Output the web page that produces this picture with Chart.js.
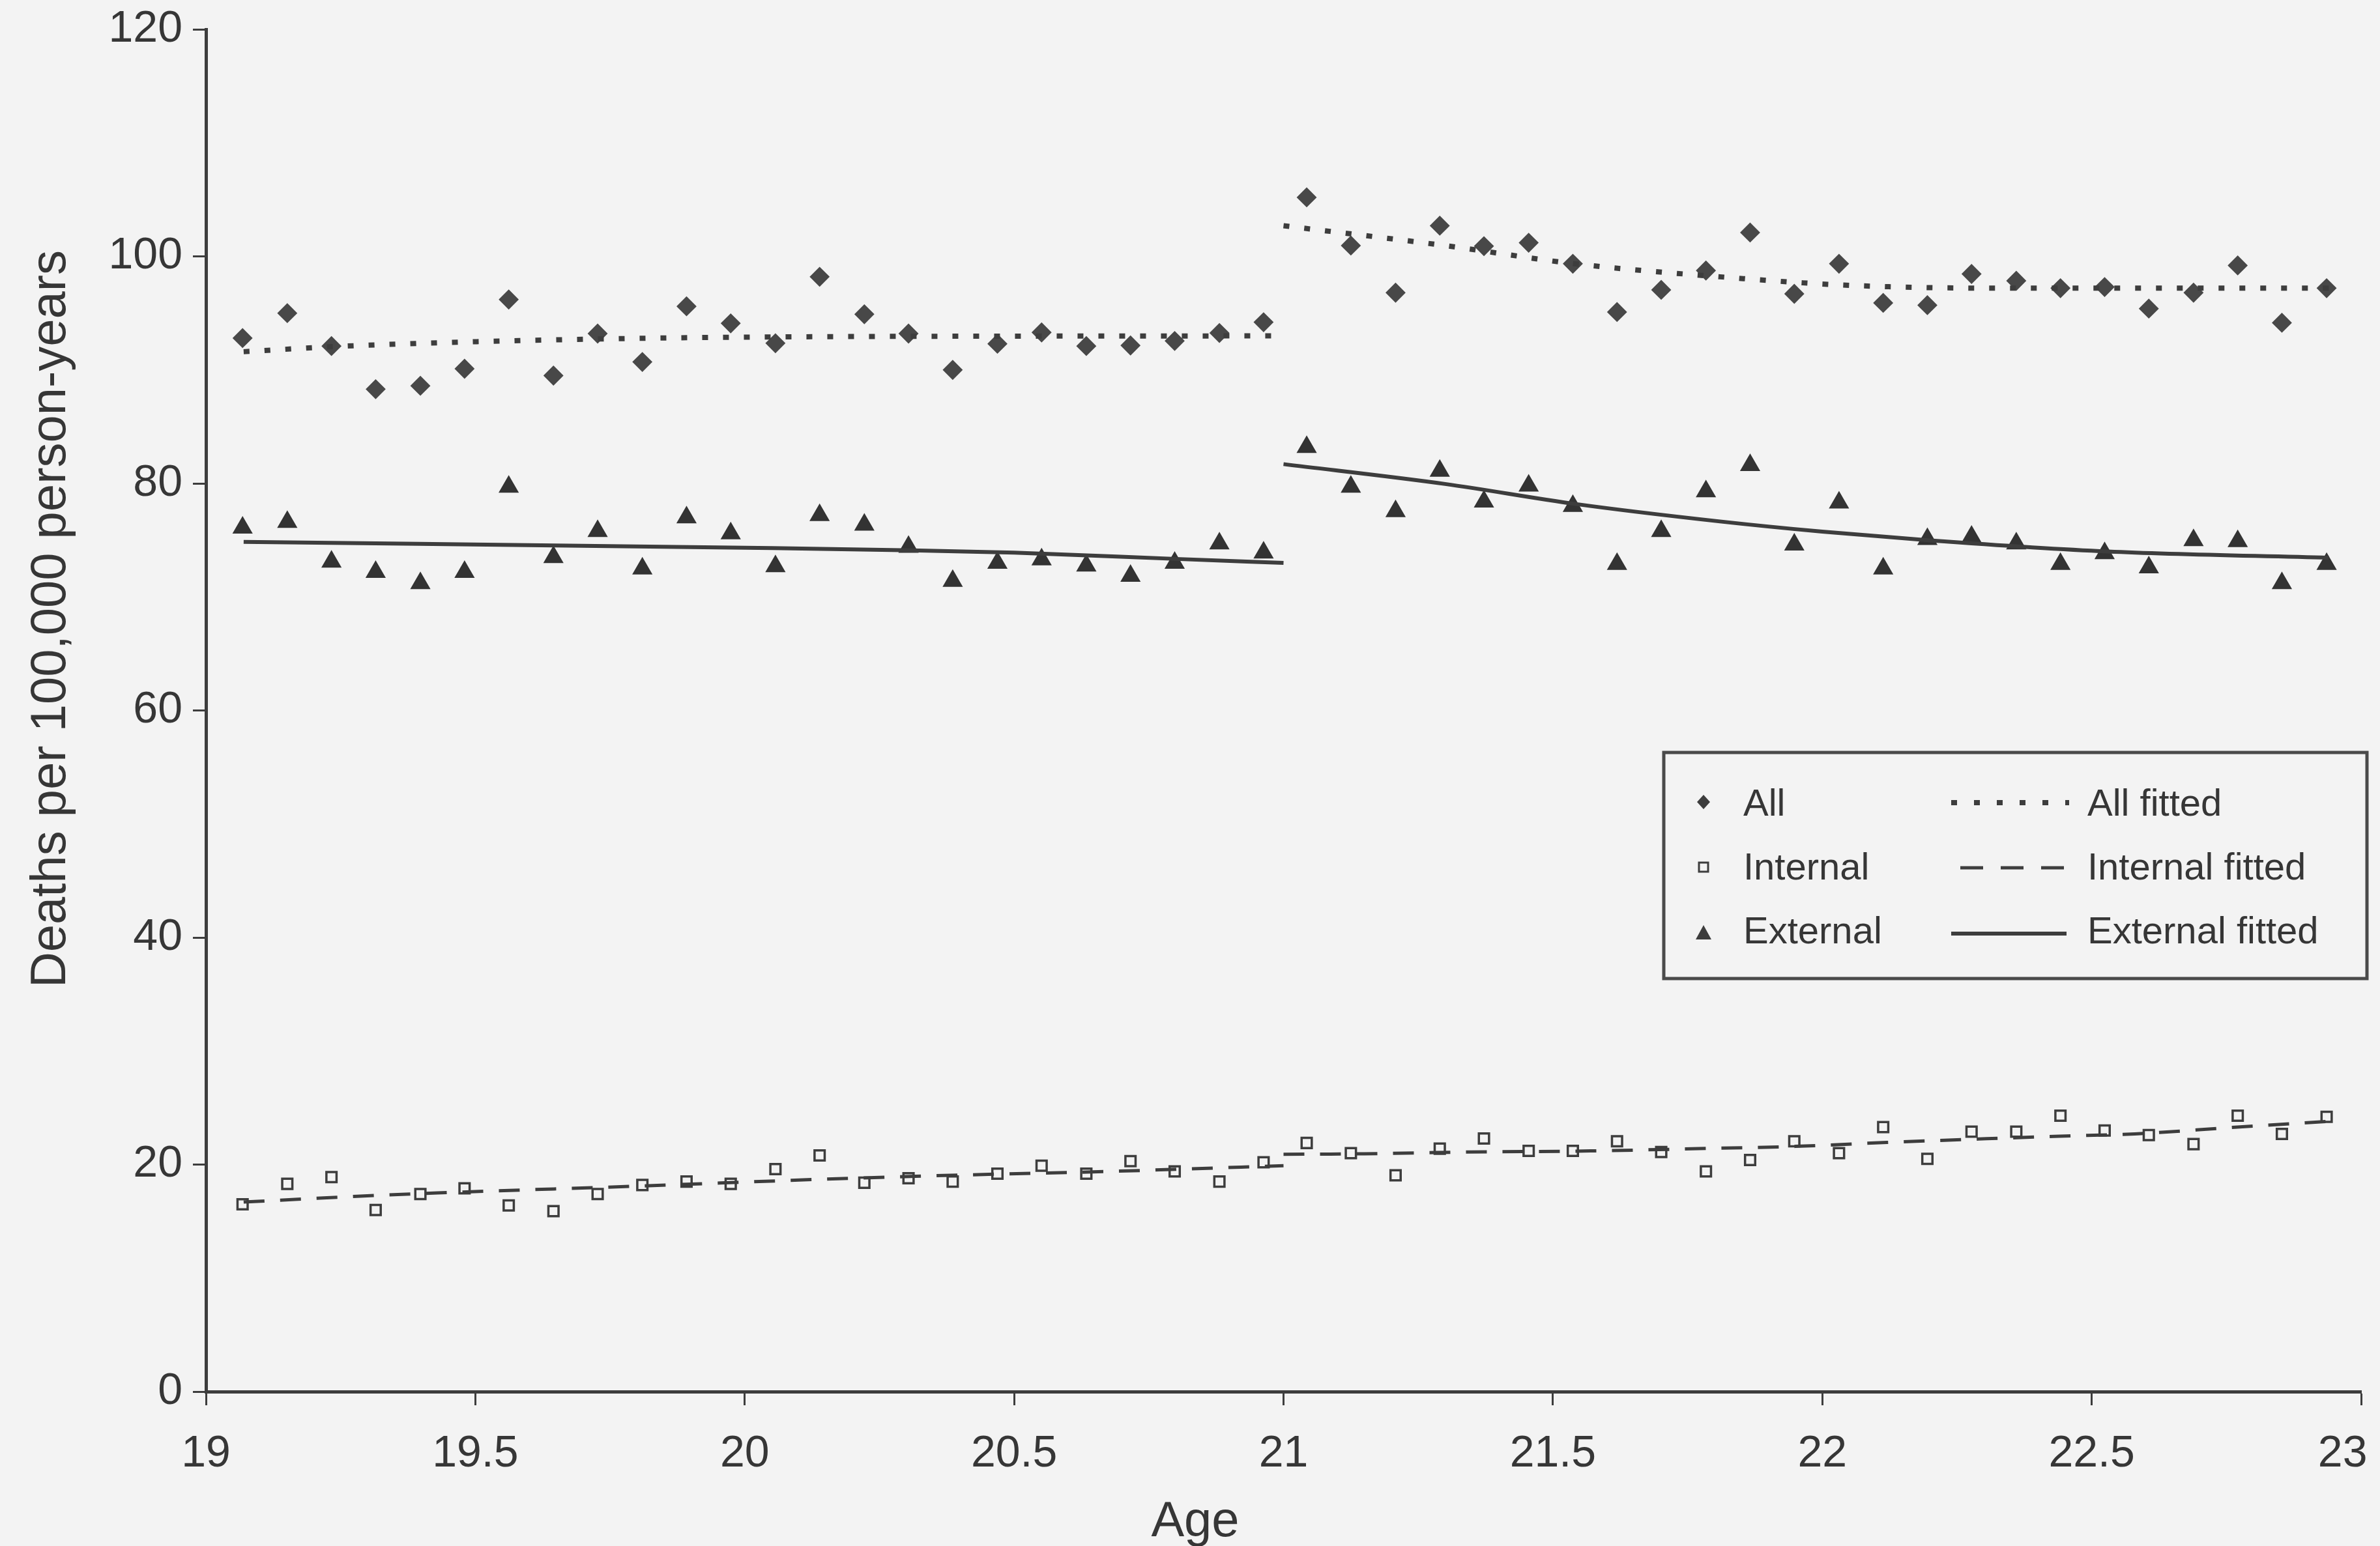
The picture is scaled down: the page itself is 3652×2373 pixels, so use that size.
<!DOCTYPE html>
<html>
<head>
<meta charset="utf-8">
<title>Deaths per 100,000 person-years by age</title>
<script src="https://cdn.jsdelivr.net/npm/chart.js@4.4.1/dist/chart.umd.min.js"></script>
<style>
  html, body { margin: 0; padding: 0; background: #f3f3f3; }
  #wrap { width: 3652px; height: 2373px; }
</style>
</head>
<body>
<div id="wrap"><canvas id="grafik" width="3652" height="2373"></canvas></div>
<script>
// monthly ages
const ages = [
  19.068, 19.151, 19.233, 19.315, 19.398, 19.480, 19.562, 19.645, 19.727, 19.810, 19.892, 19.974,
  20.057, 20.139, 20.222, 20.304, 20.386, 20.469, 20.551, 20.634, 20.716, 20.798, 20.881, 20.963,
  21.043, 21.125, 21.208, 21.290, 21.372, 21.455, 21.537, 21.619, 21.701, 21.784, 21.866, 21.948,
  22.031, 22.113, 22.195, 22.277, 22.360, 22.442, 22.524, 22.606, 22.689, 22.771, 22.853, 22.936
];

const allRates = [
  92.8, 95.0, 92.1, 88.3, 88.6, 90.1, 96.2, 89.5, 93.2, 90.7, 95.6, 94.1,
  92.35, 98.2, 94.9, 93.2, 90.0, 92.3, 93.3, 92.1, 92.15, 92.55, 93.25, 94.2,
  105.2, 100.95, 96.8, 102.7, 100.9, 101.2, 99.35, 95.1, 97.05, 98.75, 102.1, 96.7,
  99.35, 95.9, 95.7, 98.45, 97.85, 97.2, 97.3, 95.4, 96.8, 99.2, 94.15, 97.2
];

const internalRates = [
  16.5, 18.3, 18.9, 16.0, 17.4, 17.9, 16.4, 15.9, 17.4, 18.2, 18.5, 18.3,
  19.6, 20.8, 18.4, 18.8, 18.5, 19.2, 19.9, 19.2, 20.3, 19.4, 18.5, 20.2,
  21.9, 21.0, 19.05, 21.4, 22.3, 21.2, 21.2, 22.05, 21.1, 19.4, 20.4, 22.05,
  21.0, 23.3, 20.5, 22.9, 22.9, 24.3, 23.0, 22.6, 21.8, 24.3, 22.7, 24.2
];

const externalRates = [
  76.1, 76.6, 73.1, 72.2, 71.2, 72.2, 79.7, 73.5, 75.8, 72.5, 77.0, 75.6,
  72.7, 77.2, 76.35, 74.4, 71.4, 73.0, 73.3, 72.75, 71.85, 73.0, 74.7, 73.9,
  83.2, 79.7, 77.55, 81.1, 78.4, 79.8, 78.0, 72.9, 75.8, 79.3, 81.6, 74.6,
  78.3, 72.5, 75.1, 75.3, 74.7, 72.9, 73.85, 72.6, 75.0, 74.9, 71.2, 72.9
];

// fitted curves, two pieces each (break at age 21)
const allFitX1 = [19.07, 19.26, 19.65, 20.05, 21.0];
const allFitY1 = [91.6, 92.1, 92.65, 92.9, 93.0];
const allFitX2 = [21.0, 21.3, 21.54, 21.81, 22.05, 22.33, 22.94];
const allFitY2 = [102.7, 100.95, 99.35, 98.2, 97.45, 97.2, 97.2];

const intFitX1 = [19.07, 19.28, 19.43, 19.8, 20.14, 20.34, 20.68, 21.0];
const intFitY1 = [16.7, 17.2, 17.5, 18.1, 18.7, 19.0, 19.4, 19.9];
const intFitX2 = [21.0, 21.15, 21.34, 21.57, 21.77, 21.95, 22.12, 22.29, 22.44, 22.58, 22.77, 22.94];
const intFitY2 = [20.9, 20.95, 21.1, 21.2, 21.4, 21.6, 21.95, 22.25, 22.5, 22.7, 23.3, 23.8];

const extFitX1 = [19.07, 20.05, 20.31, 20.5, 20.8, 21.0];
const extFitY1 = [74.85, 74.3, 74.1, 73.9, 73.35, 73.0];
const extFitX2 = [21.0, 21.3, 21.54, 21.81, 22.0, 22.2, 22.53, 22.94];
const extFitY2 = [81.7, 79.95, 78.2, 76.65, 75.75, 74.98, 74.0, 73.45];

const xTicks = [19, 19.5, 20, 20.5, 21, 21.5, 22, 22.5, 23];
const yTicks = [0, 20, 40, 60, 80, 100, 120];

const bgColor = "#f3f3f3";
const inkColor = "#3d3d3d";
const textColor = "#363636";
const fontFamily = '"Liberation Sans", Arial, Helvetica, sans-serif';

function toPoints(xs, ys) {
  return xs.map((x, i) => ({ x: x, y: ys[i] }));
}

function fitLine(xs, ys, dash, width) {
  return {
    type: "line",
    data: toPoints(xs, ys),
    borderColor: inkColor,
    borderWidth: width,
    borderDash: dash,
    pointRadius: 0,
    fill: false,
    cubicInterpolationMode: "monotone"
  };
}

const allDots = [9, 23];
const intDash = [32, 24];

// legend + axis titles drawn on the canvas
const extraText = {
  id: "extraText",
  afterDraw(chart) {
    const ctx = chart.ctx;
    ctx.save();
    ctx.fillStyle = textColor;
    ctx.font = "76px " + fontFamily;
    ctx.textAlign = "center";
    ctx.textBaseline = "alphabetic";
    ctx.fillText("Age", 1834, 2358);
    ctx.save();
    ctx.translate(100, 950);
    ctx.rotate(-Math.PI / 2);
    ctx.fillText("Deaths per 100,000 person-years", 0, 0);
    ctx.restore();

    // legend box
    ctx.strokeStyle = "#4a4a4a";
    ctx.lineWidth = 5;
    ctx.strokeRect(2553, 1155, 1079, 347);

    ctx.font = "58px " + fontFamily;
    ctx.textAlign = "left";
    const rows = [
      { label: "All", fit: "All fitted", base: 1252 },
      { label: "Internal", fit: "Internal fitted", base: 1350 },
      { label: "External", fit: "External fitted", base: 1448 }
    ];
    rows.forEach(r => {
      ctx.fillText(r.label, 2675, r.base);
      ctx.fillText(r.fit, 3203, r.base);
    });

    const mx = 2614;
    ctx.fillStyle = inkColor;
    ctx.strokeStyle = inkColor;
    // diamond
    ctx.beginPath();
    ctx.moveTo(mx - 10, 1231);
    ctx.lineTo(mx, 1220);
    ctx.lineTo(mx + 10, 1231);
    ctx.lineTo(mx, 1242);
    ctx.closePath();
    ctx.fill();
    // open square
    ctx.lineWidth = 3;
    ctx.strokeRect(mx - 7, 1324, 14, 14);
    // triangle
    ctx.beginPath();
    ctx.moveTo(mx, 1420);
    ctx.lineTo(mx + 12, 1442);
    ctx.lineTo(mx - 12, 1442);
    ctx.closePath();
    ctx.fill();

    // line samples
    ctx.lineCap = "butt";
    ctx.lineWidth = 8;
    ctx.setLineDash([9, 26]);
    ctx.beginPath();
    ctx.moveTo(2994, 1232);
    ctx.lineTo(3175, 1232);
    ctx.stroke();
    ctx.lineWidth = 5;
    ctx.setLineDash([35, 27]);
    ctx.beginPath();
    ctx.moveTo(3008, 1332);
    ctx.lineTo(3170, 1332);
    ctx.stroke();
    ctx.setLineDash([]);
    ctx.lineWidth = 6;
    ctx.beginPath();
    ctx.moveTo(2994, 1433);
    ctx.lineTo(3171, 1433);
    ctx.stroke();
    ctx.restore();
  }
};

const ctx = document.getElementById("grafik").getContext("2d");

new Chart(ctx, {
  type: "scatter",
  data: {
    datasets: [
      fitLine(allFitX1, allFitY1, allDots, 8),
      fitLine(allFitX2, allFitY2, allDots, 8),
      fitLine(intFitX1, intFitY1, intDash, 5),
      fitLine(intFitX2, intFitY2, intDash, 5),
      fitLine(extFitX1, extFitY1, [], 6),
      fitLine(extFitX2, extFitY2, [], 6),
      {
        label: "All",
        data: toPoints(ages, allRates),
        pointStyle: "rectRot",
        pointRadius: 14,
        pointBorderWidth: 2,
        backgroundColor: "#484848",
        borderColor: "#484848",
        showLine: false
      },
      {
        label: "Internal",
        data: toPoints(ages, internalRates),
        pointStyle: "rect",
        pointRadius: 11,
        pointBorderWidth: 3.5,
        backgroundColor: bgColor,
        borderColor: inkColor,
        showLine: false
      },
      {
        label: "External",
        data: toPoints(ages, externalRates),
        pointStyle: "triangle",
        pointRadius: 16,
        pointBorderWidth: 2,
        backgroundColor: "#333333",
        borderColor: "#333333",
        showLine: false
      }
    ]
  },
  options: {
    responsive: false,
    animation: false,
    devicePixelRatio: 1,
    layout: { padding: { top: 45, right: 29, left: 0, bottom: 0 } },
    plugins: {
      legend: { display: false },
      tooltip: { enabled: false }
    },
    scales: {
      x: {
        type: "linear",
        min: 19,
        max: 23,
        afterBuildTicks(scale) {
          scale.ticks = xTicks.map(v => ({ value: v }));
        },
        ticks: {
          color: textColor,
          font: { family: fontFamily, size: 68 },
          padding: 34,
          maxRotation: 0,
          autoSkip: false,
          // last label is pulled in a little so it stays on the page
          callback: v => v === 23 ? "23\u00a0\u00a0\u00a0" : String(v)
        },
        grid: {
          display: true,
          drawOnChartArea: false,
          drawTicks: true,
          tickLength: 21,
          tickWidth: 3,
          color: inkColor
        },
        border: { display: true, color: inkColor, width: 5 },
        afterFit(scale) {
          scale.height = 237;
          scale.paddingLeft = 0;
          scale.paddingRight = 0;
        }
      },
      y: {
        min: 0,
        max: 120,
        afterBuildTicks(scale) {
          scale.ticks = yTicks.map(v => ({ value: v }));
        },
        ticks: {
          color: textColor,
          font: { family: fontFamily, size: 68 },
          padding: 16,
          callback: v => String(v)
        },
        grid: {
          display: true,
          drawOnChartArea: false,
          drawTicks: true,
          tickLength: 20,
          tickWidth: 3,
          color: inkColor
        },
        border: { display: true, color: inkColor, width: 5 },
        afterFit(scale) {
          scale.width = 316;
          scale.paddingTop = 0;
          scale.paddingBottom = 0;
        }
      }
    }
  },
  plugins: [extraText]
});
</script>
</body>
</html>
